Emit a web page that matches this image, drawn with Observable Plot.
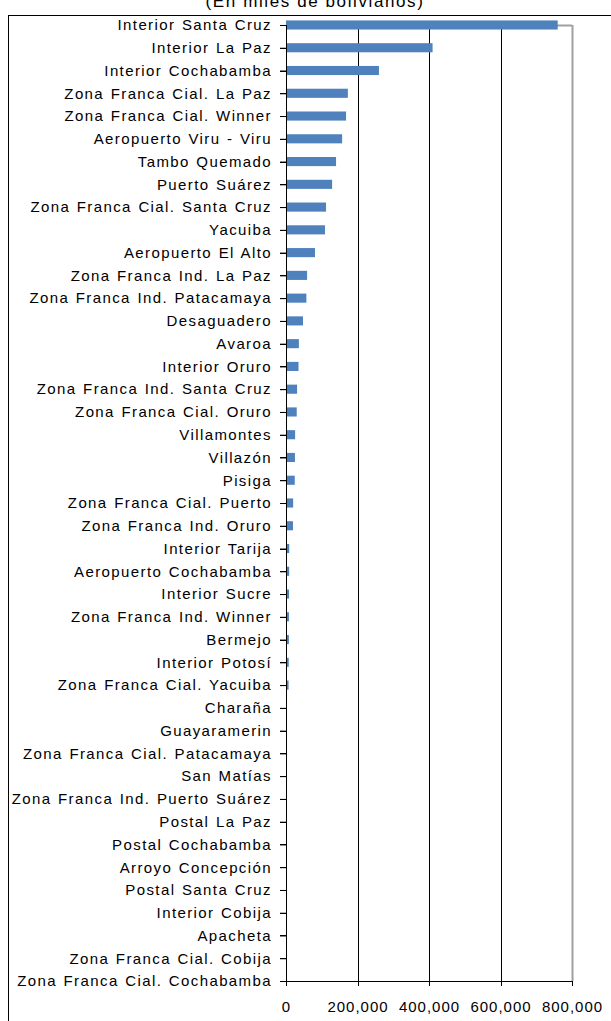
<!DOCTYPE html>
<html><head><meta charset="utf-8">
<script src="https://cdn.jsdelivr.net/npm/d3@7"></script>
<script src="https://cdn.jsdelivr.net/npm/@observablehq/plot@0.6"></script>
<style>
html,body{margin:0;padding:0;background:#fff;overflow:hidden;width:611px;height:1021px}
#wrap{position:relative;width:611px;height:1021px;overflow:hidden}
#title{position:absolute;left:0;width:630px;text-align:center;top:-7px;font-family:"Liberation Sans",Arial,sans-serif;font-size:17px;letter-spacing:1.6px;line-height:17px;white-space:nowrap;color:#000}
#frame{position:absolute;left:8px;top:15px;width:800px;height:1200px;border-left:1px solid #000;border-top:1px solid #000}
#chart{position:absolute;left:0;top:0}
#chart g[aria-label^="x-axis"] text{letter-spacing:1px;word-spacing:0}
</style></head><body>
<div id="wrap"><div id="frame"></div><div id="title">(En miles de bolivianos)</div><div id="chart"></div></div>
<script>
const categories = [
  "Interior Santa Cruz", "Interior La Paz", "Interior Cochabamba", "Zona Franca Cial. La Paz",
  "Zona Franca Cial. Winner", "Aeropuerto Viru - Viru", "Tambo Quemado", "Puerto Suárez",
  "Zona Franca Cial. Santa Cruz", "Yacuiba", "Aeropuerto El Alto", "Zona Franca Ind. La Paz",
  "Zona Franca Ind. Patacamaya", "Desaguadero", "Avaroa", "Interior Oruro",
  "Zona Franca Ind. Santa Cruz", "Zona Franca Cial. Oruro", "Villamontes", "Villazón",
  "Pisiga", "Zona Franca Cial. Puerto", "Zona Franca Ind. Oruro", "Interior Tarija",
  "Aeropuerto Cochabamba", "Interior Sucre", "Zona Franca Ind. Winner", "Bermejo",
  "Interior Potosí", "Zona Franca Cial. Yacuiba", "Charaña", "Guayaramerin",
  "Zona Franca Cial. Patacamaya", "San Matías", "Zona Franca Ind. Puerto Suárez", "Postal La Paz",
  "Postal Cochabamba", "Arroyo Concepción", "Postal Santa Cruz", "Interior Cobija",
  "Apacheta", "Zona Franca Cial. Cobija", "Zona Franca Cial. Cochabamba"
];
const values = [
  760000, 410000, 260000, 173000,
  168000, 157000, 140000, 129000,
  112000, 109000, 81000, 59000,
  57000, 47500, 36000, 35000,
  31000, 30000, 25500, 25000,
  24500, 20000, 19500, 9000,
  8800, 8500, 8200, 8000,
  7600, 7200, 2500, 2000,
  1600, 1300, 1000, 800,
  600, 500, 400, 300,
  200, 100, 50
];
const xTicks = [0, 200000, 400000, 600000, 800000];
const gridValues = [200000, 400000, 600000];

const data = categories.map((name, i) => ({name, value: values[i]}));
const W = 611, H = 1021, mT = 13.6, mB = 28.6;
const step = (H - mT - mB) / categories.length;
const half = step * 0.4 / 2;
const first = categories[0], last = categories[categories.length - 1];
const atFirst = () => first, atLast = () => last;

const chart = Plot.plot({
  width: W, height: H,
  marginLeft: 286, marginRight: 39, marginTop: mT, marginBottom: mB,
  style: {fontFamily: '"Liberation Sans", Arial, sans-serif', fontSize: "15px", letterSpacing: "1.4px", wordSpacing: "1px", background: "transparent", color: "#000"},
  x: {domain: [0, 800000], ticks: xTicks, tickFormat: d3.format(","), tickSize: 0, tickPadding: 8, label: null},
  y: {domain: categories, paddingInner: 0.6, paddingOuter: 0.3, tickSize: 6, tickPadding: 8.5, label: null},
  marks: [
    Plot.ruleY([first], {x1: 0, x2: 800000, stroke: "#a0a0a0", strokeWidth: 2}),
    Plot.ruleX([800000], {y1: atFirst, y2: atLast, insetTop: half, insetBottom: half, stroke: "#a0a0a0", strokeWidth: 2}),
    Plot.ruleX(gridValues, {y1: atFirst, y2: atLast, insetTop: half, insetBottom: half, stroke: "#000", shapeRendering: "crispEdges"}),
    Plot.barX(data, {x: "value", y: "name", fill: "#4f81bd"}),
    Plot.ruleY(categories, {y: d => d, x1: () => 0, x2: () => 0, insetLeft: -6, stroke: "#000", shapeRendering: "crispEdges"}),
    Plot.ruleX(xTicks, {y1: atLast, y2: atLast, insetTop: half, insetBottom: half - 5, stroke: "#000", shapeRendering: "crispEdges"}),
    Plot.ruleX([0], {y1: atFirst, y2: atLast, insetTop: half, insetBottom: half - 5, stroke: "#000", shapeRendering: "crispEdges"}),
    Plot.ruleY([last], {x1: 0, x2: 800000, stroke: "#000", shapeRendering: "crispEdges"})
  ]
});
document.getElementById("chart").appendChild(chart);
</script>
</body></html>
